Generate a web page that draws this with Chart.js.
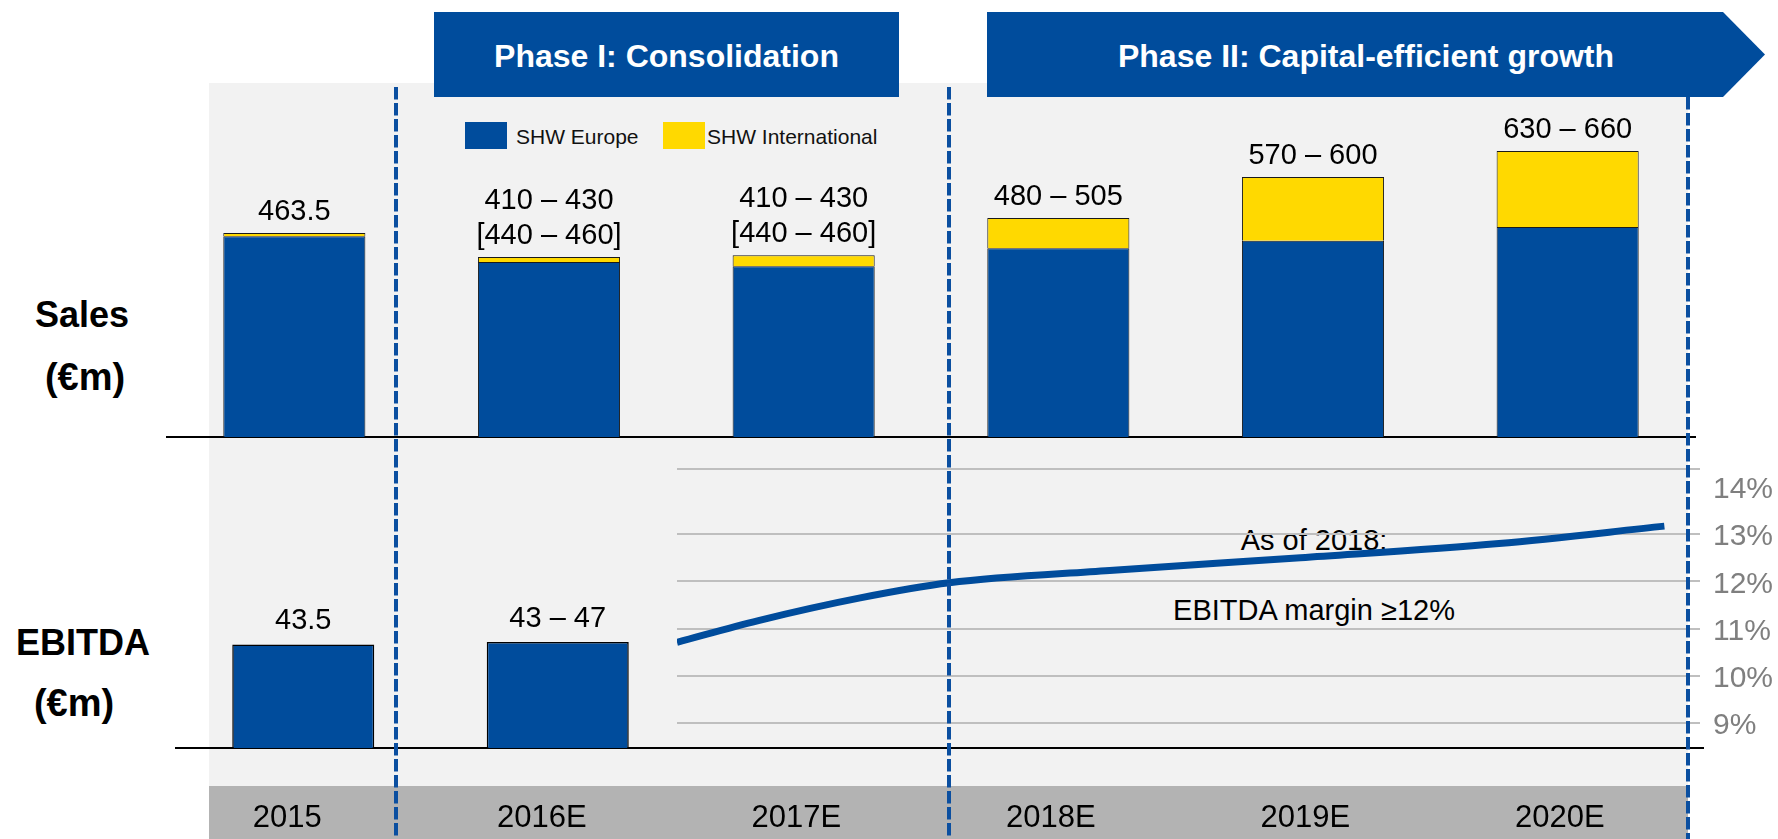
<!DOCTYPE html>
<html>
<head>
<meta charset="utf-8">
<title>SHW Sales and EBITDA</title>
<script src="https://cdn.jsdelivr.net/npm/chart.js@4.4.0/dist/chart.umd.min.js"></script>
<style>
    html, body { margin: 0; padding: 0; width: 1778px; height: 839px; overflow: hidden; background: #fff; }
    body { position: relative; font-family: "Liberation Sans", Arial, sans-serif; color: #000; }
    .abs { position: absolute; }
    #panel { left: 209px; top: 83px; width: 1479px; height: 756px; background: #f2f2f2; }
    #band { left: 209px; top: 786px; width: 1479px; height: 53px; background: #b3b3b3; }
    .phase { top: 12px; height: 85px; background: #004c9c; color: #fff; font-weight: bold; font-size: 32px; line-height: 89px; text-align: center; white-space: nowrap; }
    #phase1 { left: 434px; width: 465px; }
    #phase2 { left: 987px; width: 778px; padding-right: 20px; box-sizing: border-box;
              clip-path: polygon(0 0, 736px 0, 100% 50%, 736px 100%, 0 100%); }
    .rowtitle { font-weight: bold; width: 170px; line-height: 40px; text-align: center; }
    .swatch { top: 122px; width: 42px; height: 27px; }
    .legtext { top: 124px; font-size: 21px; line-height: 26px; color: #111; white-space: nowrap; }
    .note { left: 1114px; width: 400px; font-size: 29px; line-height: 40px; text-align: center; white-space: nowrap; }
    canvas { position: absolute; left: 0; top: 0; }
</style>
</head>
<body>
<div id="panel" class="abs"></div>
<div id="band" class="abs"></div>
<div id="phase1" class="abs phase">Phase I: Consolidation</div>
<div id="phase2" class="abs phase">Phase II: Capital-efficient growth</div>

<div class="abs rowtitle" style="left:-3px; top:295px; font-size:36px;">Sales</div>
<div class="abs rowtitle" style="left:0px; top:357px; font-size:38px;">(€m)</div>
<div class="abs rowtitle" style="left:-2px; top:623px; font-size:36px;">EBITDA</div>
<div class="abs rowtitle" style="left:-11px; top:683px; font-size:38px;">(€m)</div>

<div class="abs swatch" style="left:465px; background:#004c9c;"></div>
<div class="abs legtext" style="left:516px;">SHW Europe</div>
<div class="abs swatch" style="left:663px; background:#ffd900;"></div>
<div class="abs legtext" style="left:707px;">SHW International</div>

<div class="abs note" style="top:520px;">As of 2018:</div>
<div class="abs note" style="top:590px;">EBITDA margin ≥12%</div>

<canvas id="sales" width="1778" height="839"></canvas>
<canvas id="ebitda" width="1778" height="839"></canvas>
<canvas id="margin" width="1778" height="839"></canvas>

<script>
(function () {
    'use strict';

    var years = ['2015', '2016E', '2017E', '2018E', '2019E', '2020E'];

    // sales, €m
    var salesEurope = [456, 398, 388, 429, 446, 477];
    var salesInternational = [7.5, 11, 25, 69, 145, 173];
    var salesLabels = [
        ['463.5'],
        ['410 – 430', '[440 – 460]'],
        ['410 – 430', '[440 – 460]'],
        ['480 – 505'],
        ['570 – 600'],
        ['630 – 660']
    ];

    // EBITDA, €m
    var ebitda = [43.5, 44.5, null, null, null, null];
    var ebitdaLabels = [['43.5'], ['43 – 47'], [], [], [], []];

    // EBITDA margin path, %
    var marginYears = [2016.47, 2016.79, 2017.19, 2017.54, 2018.17, 2018.92, 2019.70, 2020.35];
    var marginValues = [10.71, 11.17, 11.65, 11.97, 12.23, 12.50, 12.80, 13.17];
    var marginTicks = [9, 10, 11, 12, 13, 14];

    var dividerX = [396, 949, 1688];

    var FONT = '"Liberation Sans", Arial, sans-serif';
    var BLUE = '#004c9c';
    var YELLOW = '#ffd900';

    Chart.defaults.font.family = FONT;
    Chart.defaults.animation = false;
    Chart.defaults.responsive = false;
    Chart.defaults.plugins.legend.display = false;
    Chart.defaults.plugins.tooltip.enabled = false;

    function barLabels(texts, gap) {
        return {
            id: 'barLabels',
            afterDatasetsDraw: function (chart) {
                var ctx = chart.ctx;
                var meta = chart.getDatasetMeta(chart.data.datasets.length - 1);
                ctx.save();
                ctx.font = '29px ' + FONT;
                ctx.fillStyle = '#000';
                ctx.textAlign = 'center';
                ctx.textBaseline = 'middle';
                for (var i = 0; i < texts.length; i++) {
                    var lines = texts[i];
                    var bar = meta.data[i];
                    for (var k = 0; k < lines.length; k++) {
                        ctx.fillText(lines[k], bar.x, bar.y - gap - (lines.length - 1 - k) * 35);
                    }
                }
                ctx.restore();
            }
        };
    }

    var phaseDividers = {
        id: 'phaseDividers',
        afterDraw: function (chart) {
            var ctx = chart.ctx;
            ctx.save();
            ctx.strokeStyle = '#0b4fa0';
            ctx.lineWidth = 4;
            ctx.setLineDash([12.5, 3.5]);
            for (var i = 0; i < dividerX.length; i++) {
                ctx.beginPath();
                ctx.moveTo(dividerX[i], i === 2 ? 97 : 87);
                ctx.lineTo(dividerX[i], 839);
                ctx.stroke();
            }
            ctx.restore();
        }
    };

    new Chart(document.getElementById('sales'), {
        type: 'bar',
        data: {
            labels: years,
            datasets: [
                { label: 'SHW Europe', data: salesEurope, backgroundColor: BLUE, borderColor: '#1a1a1a', borderWidth: 1 },
                { label: 'SHW International', data: salesInternational, backgroundColor: YELLOW, borderColor: '#1a1a1a', borderWidth: 1 }
            ]
        },
        options: {
            layout: { padding: { left: 167, right: 83, top: 85, bottom: 402 } },
            datasets: { bar: { barPercentage: 0.558, categoryPercentage: 1 } },
            scales: {
                x: {
                    stacked: true,
                    grid: { drawOnChartArea: false, drawTicks: false },
                    ticks: { display: false },
                    border: { color: '#000', width: 2 }
                },
                y: { stacked: true, display: false, min: 0, max: 800 }
            }
        },
        plugins: [barLabels(salesLabels, 21)]
    });

    new Chart(document.getElementById('ebitda'), {
        type: 'bar',
        data: {
            labels: years,
            datasets: [
                { label: 'EBITDA', data: ebitda, backgroundColor: BLUE, borderColor: '#000', borderWidth: 1.5 }
            ]
        },
        options: {
            layout: { padding: { left: 176, right: 75, top: 510, bottom: 0 } },
            datasets: { bar: { barPercentage: 0.558, categoryPercentage: 1 } },
            scales: {
                x: {
                    grid: { drawOnChartArea: false, drawTicks: false },
                    border: { color: '#000', width: 2 },
                    ticks: {
                        color: '#000', font: { size: 31 }, padding: 52, labelOffset: -16,
                        maxRotation: 0, autoSkip: false
                    },
                    afterFit: function (scale) { scale.height = 91; }
                },
                y: { display: false, min: 0, max: 100 }
            }
        },
        plugins: [barLabels(ebitdaLabels, 23)]
    });

    var marginPoints = [];
    for (var i = 0; i < marginYears.length; i++) {
        marginPoints.push({ x: marginYears[i], y: marginValues[i] });
    }

    new Chart(document.getElementById('margin'), {
        type: 'line',
        data: {
            datasets: [{
                label: 'EBITDA margin',
                data: marginPoints,
                borderColor: BLUE,
                borderWidth: 7,
                pointRadius: 0,
                cubicInterpolationMode: 'monotone',
                fill: false
            }]
        },
        options: {
            layout: { padding: { left: 677, right: 0, top: 469, bottom: 91 } },
            scales: {
                x: { type: 'linear', display: false, min: 2016.47, max: 2020.49 },
                y: {
                    position: 'right',
                    min: 8.47,
                    max: 14.38,
                    afterBuildTicks: function (scale) {
                        scale.ticks = marginTicks.concat([scale.max]).map(function (v) { return { value: v }; });
                    },
                    afterFit: function (scale) { scale.width = 78; },
                    grid: {
                        color: function (c) { return c.tick && c.tick.value === 14 ? 'rgba(0,0,0,0)' : '#bfbfbf'; },
                        lineWidth: 2,
                        drawTicks: false
                    },
                    border: { display: false },
                    ticks: {
                        color: '#7f7f7f',
                        font: { size: 30 },
                        padding: 13,
                        labelOffset: 3,
                        callback: function (v) { return marginTicks.indexOf(v) >= 0 ? v + '%' : ''; }
                    }
                }
            }
        },
        plugins: [phaseDividers]
    });
})();
</script>
</body>
</html>
